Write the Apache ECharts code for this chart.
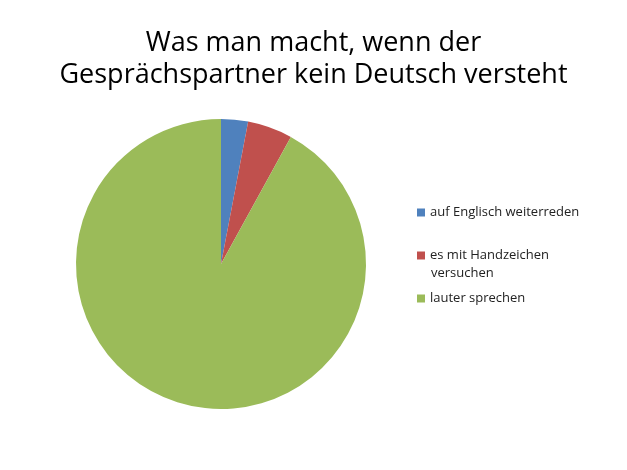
<!DOCTYPE html>
<html>
<head>
<meta charset="utf-8">
<script src="https://cdn.jsdelivr.net/npm/echarts@6/dist/echarts.min.js"></script>
<style>
html, body { margin: 0; padding: 0; background: #fff; }
#chart { width: 627px; height: 470px; }
</style>
</head>
<body>
<div id="chart"></div>
<script>
// Daten
var categories = ['auf Englisch weiterreden', 'es mit Handzeichen versuchen', 'lauter sprechen'];
var values = [3, 5, 92];
var colors = ['#4F81BD', '#C0504D', '#9BBB59'];

var chart = echarts.init(document.getElementById('chart'));

var fontName = 'Open Sans';
var legendText = {
    fontFamily: fontName,
    fontSize: 13,
    color: '#222',
    lineHeight: 17
};

function legendFor(i, top, opts) {
    return Object.assign({
        orient: 'vertical',
        left: 412,
        top: top,
        itemWidth: 8,
        itemHeight: 8,
        itemGap: 0,
        icon: 'rect',
        selectedMode: false,
        data: [categories[i]],
        textStyle: legendText
    }, opts || {});
}

var option = {
    backgroundColor: '#fff',
    animation: false,
    title: [
        {
            text: 'Was man macht, wenn der\nGesprächspartner kein Deutsch versteht',
            left: 'center',
            top: 22,
            textStyle: {
                fontFamily: fontName,
                fontSize: 27,
                fontWeight: 'normal',
                color: '#000',
                lineHeight: 32
            }
        },
        {
            // zweite Zeile des roten Legendeneintrags
            text: 'versuchen',
            left: 426,
            top: 260,
            textStyle: Object.assign({}, legendText, { fontWeight: 'normal' })
        }
    ],
    legend: [
        legendFor(0, 199),
        legendFor(1, 242, {
            formatter: function (name) { return 'es mit Handzeichen'; }
        }),
        legendFor(2, 285)
    ],
    series: [
        {
            name: 'Gesprächspartner',
            type: 'pie',
            center: [221, 264],
            radius: 145,
            startAngle: 90,
            clockwise: true,
            label: { show: false },
            labelLine: { show: false },
            data: categories.map(function (c, i) {
                return { name: c, value: values[i], itemStyle: { color: colors[i] } };
            })
        }
    ]
};

chart.setOption(option);
</script>
</body>
</html>
